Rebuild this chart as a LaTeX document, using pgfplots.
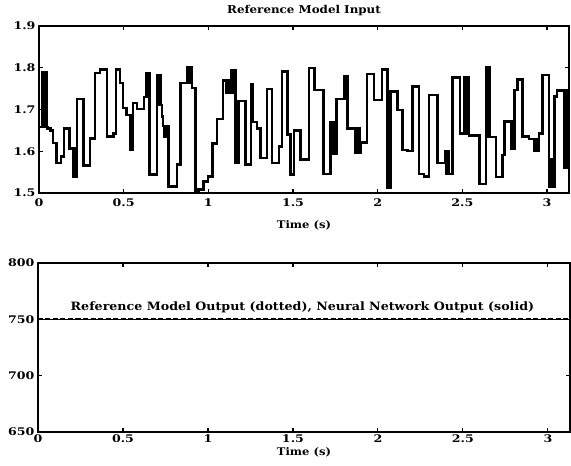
\documentclass[border=0pt]{standalone}
\usepackage{pgfplots}
\pgfplotsset{compat=1.18}
\usepackage{fontspec}
\setmainfont{DejaVu Serif}[FakeStretch=1.1]
\newfontfamily\tickfont{DejaVu Serif}[FakeStretch=1.2]

\begin{document}
\begin{tikzpicture}[x=1pt,y=1pt]
\useasboundingbox (0,0) rectangle (571,466);
\pgfplotsset{
  myaxis/.style={
    scale only axis, width=530pt,
    xmin=0, xmax=3.13,
    xtick={0,0.5,1,1.5,2,2.5,3},
    xticklabels={0,0.5,1,1.5,2,2.5,3},
    tick align=inside, major tick length=4pt,
    axis line style={line width=1.3pt},
    tick style={line width=1.1pt, black},
    ticklabel style={font=\tickfont\fontsize{10.5}{12}\selectfont\bfseries},
    /pgf/number format/assume math mode=true,
    label style={font=\fontsize{10.5}{12}\selectfont\bfseries},
    title style={font=\fontsize{10.8}{12}\selectfont\bfseries},
  }
}
% ---------------- top: reference model input ----------------
\begin{axis}[myaxis,
    at={(39pt,273pt)}, anchor=south west, height=167pt,
    ymin=1.5, ymax=1.9,
    ytick={1.5,1.6,1.7,1.8,1.9},
    yticklabels={1.5,1.6,1.7,1.8,1.9},
    title={Reference Model Input},
    title style={at={(axis description cs:0.5,1)}, anchor=center, yshift=9pt},
    xlabel={Time (s)},
    xlabel style={at={(axis description cs:0.5,0)}, anchor=center, yshift=-32pt},
    xticklabel style={yshift=-2pt},
  ]
  \addplot[const plot, black, line width=2.5pt] coordinates {
    (0.000,1.658)
    (0.020,1.79) (0.024,1.658) (0.028,1.79) (0.032,1.658) (0.036,1.79)
    (0.040,1.658) (0.044,1.79) (0.048,1.658)
    (0.051,1.655) (0.067,1.650) (0.0825,1.62) (0.102,1.572) (0.130,1.588)
    (0.149,1.655) (0.181,1.607)
    (0.200,1.54) (0.204,1.607) (0.208,1.54) (0.212,1.607) (0.216,1.54)
    (0.220,1.54)
    (0.224,1.725) (0.263,1.566) (0.302,1.631) (0.332,1.788) (0.361,1.796)
    (0.401,1.635) (0.440,1.643) (0.456,1.796) (0.479,1.763) (0.495,1.703)
    (0.517,1.687) (0.541,1.603) (0.556,1.715)
    (0.5795,1.701) (0.619,1.73)
    (0.6345,1.787) (0.6385,1.73) (0.6425,1.787) (0.6465,1.73) (0.6505,1.787)
    (0.654,1.544) (0.697,1.711)
    (0.701,1.783) (0.705,1.711) (0.709,1.783) (0.713,1.711) (0.717,1.783)
    (0.721,1.711)
    (0.727,1.683)
    (0.733,1.66) (0.738,1.635) (0.743,1.66) (0.748,1.635) (0.753,1.66)
    (0.758,1.635) (0.762,1.66)
    (0.766,1.516) (0.815,1.568) (0.835,1.763)
    (0.874,1.80) (0.878,1.763) (0.882,1.80) (0.886,1.763) (0.890,1.80)
    (0.894,1.763) (0.898,1.80)
    (0.904,1.751) (0.923,1.50) (0.943,1.508) (0.972,1.528) (0.998,1.54)
    (1.025,1.619) (1.050,1.677) (1.088,1.769)
    (1.108,1.739) (1.112,1.769) (1.116,1.739) (1.120,1.769)
    (1.122,1.739)
    (1.135,1.795) (1.139,1.739) (1.143,1.795) (1.147,1.739) (1.151,1.795)
    (1.159,1.572) (1.178,1.72) (1.220,1.568)
    (1.251,1.76) (1.255,1.67) (1.259,1.76) (1.263,1.67)
    (1.265,1.67) (1.2885,1.655) (1.308,1.584) (1.347,1.749) (1.377,1.572)
    (1.416,1.611) (1.436,1.791) (1.469,1.64) (1.485,1.544) (1.505,1.65)
    (1.5456,1.58) (1.595,1.799) (1.628,1.747) (1.679,1.546) (1.7224,1.669)
    (1.738,1.595) (1.742,1.669) (1.746,1.595) (1.750,1.669) (1.754,1.595)
    (1.758,1.725)
    (1.800,1.779) (1.804,1.725) (1.808,1.779) (1.812,1.725) (1.816,1.779)
    (1.8206,1.655)
    (1.870,1.596) (1.874,1.655) (1.878,1.596) (1.882,1.655) (1.886,1.596)
    (1.890,1.655) (1.894,1.596)
    (1.899,1.621) (1.938,1.785) (1.978,1.723) (2.027,1.796)
    (2.058,1.512) (2.062,1.743) (2.066,1.512) (2.070,1.743) (2.074,1.512)
    (2.078,1.743)
    (2.082,1.743) (2.1175,1.699) (2.147,1.603) (2.175,1.60) (2.206,1.755)
    (2.245,1.546) (2.2746,1.54) (2.304,1.735) (2.353,1.572)
    (2.402,1.60) (2.406,1.546) (2.410,1.60) (2.414,1.546) (2.418,1.60)
    (2.422,1.546)
    (2.428,1.546) (2.4415,1.777) (2.487,1.643)
    (2.510,1.777) (2.514,1.643) (2.518,1.777) (2.522,1.643) (2.526,1.777)
    (2.530,1.643) (2.534,1.777)
    (2.540,1.638) (2.6007,1.522)
    (2.640,1.80) (2.644,1.635) (2.648,1.80) (2.652,1.635) (2.656,1.80)
    (2.6596,1.634) (2.699,1.538) (2.738,1.591) (2.748,1.671)
    (2.787,1.607) (2.791,1.671) (2.795,1.607) (2.799,1.671) (2.803,1.607)
    (2.807,1.747) (2.8266,1.772) (2.856,1.635) (2.895,1.629)
    (2.925,1.60) (2.929,1.629) (2.933,1.60) (2.937,1.629) (2.941,1.60)
    (2.945,1.629) (2.949,1.60)
    (2.954,1.642) (2.974,1.783)
    (3.013,1.516) (3.017,1.58) (3.021,1.516) (3.025,1.58) (3.029,1.516)
    (3.033,1.58) (3.037,1.516)
    (3.043,1.731) (3.058,1.745)
    (3.101,1.56) (3.105,1.745) (3.109,1.56) (3.113,1.745) (3.117,1.56)
    (3.121,1.60) (3.13,1.60)
  };
\end{axis}
% ---------------- bottom: outputs ----------------
\begin{axis}[myaxis,
    at={(38pt,34pt)}, anchor=south west, height=169pt, width=532pt,
    ymin=650, ymax=800,
    ytick={650,700,750,800},
    yticklabels={650,700,750,800},
    xlabel={Time (s)},
    xlabel style={at={(axis description cs:0.5,0)}, anchor=center, yshift=-20pt},
    xticklabel style={yshift=1pt},
  ]
  \addplot[black, line width=0.9pt] coordinates {(0,750) (3.13,750)};
  \addplot[black, line width=1.8pt, dash pattern=on 5pt off 2.5pt] coordinates {(0,750.6) (3.13,750.6)};
  \node[font=\fontsize{11.5}{13}\selectfont\bfseries, anchor=south] at (axis cs:1.556,752.5)
    {Reference Model Output (dotted), Neural Network Output (solid)};
\end{axis}
\end{tikzpicture}
\end{document}
